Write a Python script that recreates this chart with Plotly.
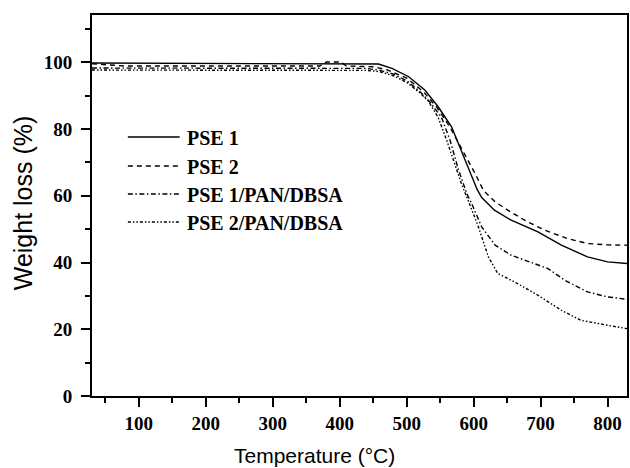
import plotly.graph_objects as go

# ---- data ----
t_pse1 = [30, 440, 458, 478, 503, 527, 547, 567, 582, 597, 605, 612, 631, 656, 696, 731, 770, 800, 829]
w_pse1 = [99.8, 99.7, 99.5, 98.2, 95.7, 91.7, 86.7, 80.7, 73.5, 66.0, 62.0, 59.5, 55.7, 52.7, 49.2, 45.2, 41.7, 40.2, 39.7]

t_pse2 = [30, 55, 80, 370, 380, 402, 410, 450, 470, 500, 525, 545, 565, 585, 600, 615, 632, 651, 676, 706, 740, 770, 800, 829]
w_pse2 = [99.6, 99.3, 98.9, 98.9, 100.1, 100.1, 98.9, 98.7, 97.8, 95.3, 91.2, 86.5, 80.5, 73.0, 67.5, 61.5, 58.2, 55.7, 52.7, 49.7, 47.2, 45.7, 45.3, 45.2]

t_pse1_pan = [30, 440, 460, 480, 500, 520, 535, 552, 565, 577, 590, 597, 612, 632, 656, 691, 711, 736, 770, 800, 829]
w_pse1_pan = [98.3, 98.2, 97.6, 96.5, 94.5, 91.2, 88.0, 83.5, 76.5, 68.0, 60.5, 57.7, 50.7, 45.2, 42.2, 39.7, 38.2, 34.7, 31.2, 29.7, 29.0]

t_pse2_pan = [30, 440, 460, 480, 500, 520, 532, 547, 560, 572, 582, 592, 607, 622, 636, 661, 696, 731, 760, 800, 829]
w_pse2_pan = [97.7, 97.6, 97.2, 96.0, 94.0, 90.8, 88.5, 83.5, 76.5, 69.5, 63.5, 58.5, 50.7, 41.7, 36.7, 34.2, 30.2, 25.7, 22.7, 21.2, 20.2]

series_names = ["PSE 1", "PSE 2", "PSE 1/PAN/DBSA", "PSE 2/PAN/DBSA"]
x_title = "Temperature (°C)"
y_title = "Weight loss (%)"

# ---- styling ----
dashes = ["solid", "5px,4px", "5px,2.5px,1.5px,2.5px", "3px,2px,1.5px,2px,1.5px,2px"]
lw = 1.4
W, H = 630, 468
L, R, T, B = 92, 1, 15, 72
pw, ph = W - L - R, H - T - B

def px_x(p):
    return (p - L) / pw

def px_y(p):
    return (H - B - p) / ph

fig = go.Figure()
data = [(t_pse1, w_pse1), (t_pse2, w_pse2), (t_pse1_pan, w_pse1_pan), (t_pse2_pan, w_pse2_pan)]
for (tx, wy), name, d in zip(data, series_names, dashes):
    fig.add_trace(go.Scatter(x=tx, y=wy, mode="lines", name=name, showlegend=False,
                             line=dict(color="black", width=lw, dash=d)))

# manual legend (line samples + labels)
rows_px = [137, 166, 194, 222]
for name, d, ry in zip(series_names, dashes, rows_px):
    fig.add_shape(type="line", xref="paper", yref="paper",
                  x0=px_x(128), x1=px_x(180), y0=px_y(ry), y1=px_y(ry),
                  line=dict(color="black", width=lw, dash=d))
    fig.add_annotation(xref="paper", yref="paper", x=px_x(185), y=px_y(ry + 1),
                       text=name, showarrow=False, xanchor="left", yanchor="middle",
                       font=dict(family="Liberation Serif", size=20, color="black", weight="bold"))

# axis titles
fig.add_annotation(xref="paper", yref="paper", x=px_x(315), y=px_y(455),
                   text=x_title, showarrow=False, xanchor="center", yanchor="middle",
                   font=dict(family="Liberation Sans", size=21, color="black"))
fig.add_annotation(xref="paper", yref="paper", x=px_x(23), y=px_y(203),
                   text=y_title, showarrow=False, xanchor="center", yanchor="middle",
                   textangle=-90,
                   font=dict(family="Liberation Sans", size=25, color="black"))

tickfont = dict(family="Liberation Serif", size=19, color="black", weight="bold")
fig.update_xaxes(range=[30, 829], tick0=0, dtick=100, ticks="outside", ticklen=9, tickwidth=2,
                 tickcolor="black", showline=True, linewidth=2, linecolor="black", mirror=True,
                 showgrid=False, zeroline=False, tickfont=tickfont, ticklabelstandoff=0,
                 minor=dict(tick0=0, dtick=50, ticks="outside", ticklen=5, tickwidth=2, tickcolor="black", showgrid=False))
fig.update_yaxes(range=[0, 114.2], tick0=0, dtick=20, ticks="outside", ticklen=9, tickwidth=2,
                 tickcolor="black", showline=True, linewidth=2, linecolor="black", mirror=True,
                 showgrid=False, zeroline=False, tickfont=tickfont, ticklabelstandoff=5,
                 minor=dict(tick0=0, dtick=10, ticks="outside", ticklen=5, tickwidth=2, tickcolor="black", showgrid=False))

fig.update_layout(width=W, height=H, margin=dict(l=L, r=R, t=T, b=B),
                  paper_bgcolor="white", plot_bgcolor="white", showlegend=False)

fig.write_html("out.html", config={"displayModeBar": False},
               post_script="document.body.style.margin='0';document.body.style.overflow='hidden';")
